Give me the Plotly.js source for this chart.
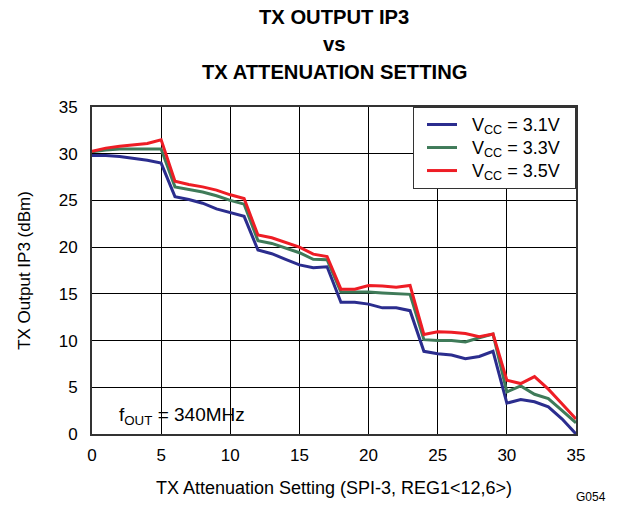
<!DOCTYPE html>
<html>
<head>
<meta charset="utf-8">
<script src="https://cdn.plot.ly/plotly-3.0.1.min.js"></script>
<style>html,body{margin:0;padding:0;background:#fff;}#chart{width:617px;height:505px;}</style>
</head>
<body>
<div id="chart"></div>
<script>
const attenuation = [0,1,2,3,4,5,6,7,8,9,10,11,12,13,14,15,16,17,18,19,20,21,22,23,24,25,26,27,28,29,30,31,32,33,34,35];
const vcc31 = [29.8,29.8,29.7,29.5,29.3,29.0,25.4,25.1,24.7,24.1,23.7,23.3,19.7,19.3,18.7,18.1,17.8,17.9,14.1,14.1,13.9,13.5,13.5,13.2,8.85,8.6,8.45,8.05,8.3,8.85,3.3,3.7,3.45,2.9,1.6,0];
const vcc33 = [30.2,30.4,30.5,30.5,30.5,30.5,26.45,26.2,25.9,25.5,25.0,24.6,20.7,20.4,19.9,19.4,18.7,18.65,15.2,15.2,15.2,15.1,15.0,14.95,10.1,10.0,10.0,9.85,10.3,10.7,4.5,5.15,4.25,3.8,2.5,1.2];
const vcc35 = [30.25,30.6,30.8,30.95,31.1,31.5,27.05,26.7,26.45,26.1,25.6,25.2,21.3,21.0,20.5,20.0,19.25,19.0,15.5,15.5,15.9,15.85,15.7,15.9,10.65,10.95,10.9,10.75,10.4,10.7,5.75,5.4,6.15,4.8,3.2,1.6];
const seriesNames = ['V<sub>CC</sub> = 3.1V','V<sub>CC</sub> = 3.3V','V<sub>CC</sub> = 3.5V'];
const seriesColors = ['#2B2D8E','#3F7B59','#EE1D25'];
const xTicks = [0,5,10,15,20,25,30,35];
const yTicks = [0,5,10,15,20,25,30,35];
const titleLines = ['TX OUTPUT IP3','vs','TX ATTENUATION SETTING'];

const ys = [vcc31, vcc33, vcc35];
const traces = ys.map((y,i)=>({
  x: attenuation, y: y, type:'scatter', mode:'lines',
  name: '<span style="font-size:18px">&nbsp;&nbsp;' + seriesNames[i] + '&nbsp;&nbsp;</span>',
  line:{color: seriesColors[i], width:3}
}));

const font = "Liberation Sans, Arial, sans-serif";
const titleY = [1.275, 1.193, 1.107];
const annotations = titleLines.map((t,i)=>({
  text:'<b>'+t+'</b>', xref:'paper', yref:'paper', x:0.5, y:titleY[i],
  xanchor:'center', yanchor:'middle', showarrow:false,
  font:{family:font, size:20.2, color:'#000'}
}));
annotations.push({
  text:'f<sub>OUT</sub> = 340MHz', xref:'x', yref:'y', x:1.8, y:1.9,
  xanchor:'left', yanchor:'middle', showarrow:false,
  font:{family:font, size:19, color:'#000'}
});
annotations.push({
  text:'G054', xref:'paper', yref:'paper', x:1.03, y:-0.193,
  xanchor:'center', yanchor:'middle', showarrow:false,
  font:{family:font, size:12, color:'#000'}
});

const layout = {
  width:617, height:505,
  margin:{l:92, r:41, t:107, b:71},
  paper_bgcolor:'#fff', plot_bgcolor:'#fff',
  font:{family:font, size:16, color:'#000'},
  showlegend:true,
  legend:{x:1, y:1, xanchor:'right', yanchor:'top', bgcolor:'#fff',
    bordercolor:'#333', borderwidth:1, font:{family:font, size:15.4, color:'#000'},
    tracegroupgap:0, itemwidth:30, indentation:8},
  xaxis:{range:[0,35], tickvals:xTicks, ticktext:xTicks.map(String),
    showgrid:true, gridcolor:'#000', gridwidth:1, zeroline:false,
    showline:true, linecolor:'#333', linewidth:2, mirror:true,
    ticks:'inside', ticklen:5, tickcolor:'#000', ticklabelstandoff:5,
    tickfont:{family:font, size:17},
    title:{text:'TX Attenuation Setting (SPI-3, REG1<12,6>)', font:{family:font, size:18}, standoff:17}},
  yaxis:{range:[0,35], tickvals:yTicks, ticktext:yTicks.map(String),
    showgrid:true, gridcolor:'#000', gridwidth:1, zeroline:false,
    showline:true, linecolor:'#333', linewidth:2, mirror:true,
    ticks:'inside', ticklen:5, tickcolor:'#000', ticklabelstandoff:9,
    tickfont:{family:font, size:17},
    title:{text:'TX Output IP3 (dBm)', font:{family:font, size:17}, standoff:24}},
  annotations: annotations
};
Plotly.newPlot('chart', traces, layout, {displayModeBar:false, staticPlot:true});
</script>
</body>
</html>
